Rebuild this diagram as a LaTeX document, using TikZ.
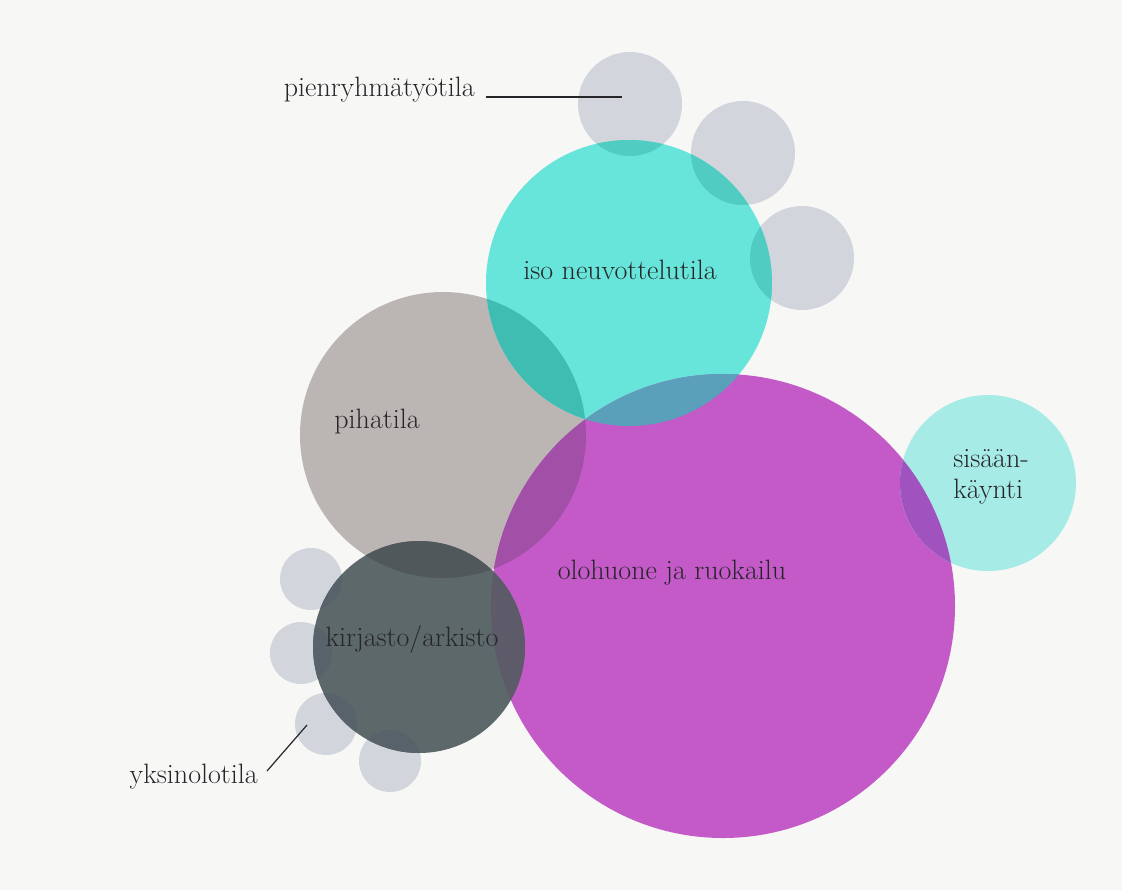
\documentclass[tikz,border=0pt]{standalone}
\usepackage{fontspec}
\definecolor{bgc}{HTML}{F7F7F6}
\definecolor{sgrey}{HTML}{D3D5DC}
\definecolor{cyanA}{HTML}{67E5DA}
\definecolor{cyanL}{HTML}{A6EBE6}
\definecolor{pihc}{HTML}{BBB6B4}
\definecolor{magc}{HTML}{C35AC8}
\definecolor{darkc}{HTML}{5D686B}
\definecolor{txtc}{HTML}{262629}
\definecolor{gxcy}{HTML}{50CCC3}
\definecolor{pxcy}{HTML}{40BDB2}
\definecolor{cyxm}{HTML}{5AA0BA}
\definecolor{pxm}{HTML}{A24FA8}
\definecolor{pxcyxm}{HTML}{4E8C9E}
\definecolor{dxp}{HTML}{50585B}
\definecolor{dxm}{HTML}{5D5A6A}
\definecolor{dxpxm}{HTML}{4E4B5A}
\definecolor{dxl}{HTML}{58626A}
\definecolor{mxs}{HTML}{A052BF}
\newcommand\ovl[3]{\begin{scope}\clip #1;\fill[#3] #2;\end{scope}}
\newcommand\ovlt[4]{\begin{scope}\clip #1;\clip #2;\fill[#4] #3;\end{scope}}
\begin{document}
\begin{tikzpicture}[x=0.75pt,y=-0.75pt,
  lbl/.style={text=txtc,font=\fontsize{21}{25}\selectfont,inner sep=0pt},
  leader/.style={draw=txtc,line width=0.9pt}]
\fill[bgc] (0,0) rectangle (1122,890);
\useasboundingbox (0,0) rectangle (1122,890);
% centres
\coordinate (g1) at (630,104);
\coordinate (g2) at (743,153);
\coordinate (g3) at (802,258);
\coordinate (cy) at (629,283);
\coordinate (ph) at (443,435);
\coordinate (mg) at (723,606);
\coordinate (ss) at (988,483);
\coordinate (dk) at (419,647);
\coordinate (l1) at (311,579);
\coordinate (l2) at (301,653);
\coordinate (l3) at (326,724);
\coordinate (l4) at (390,761);
% base circles
\fill[sgrey] (g1) circle (52);
\fill[sgrey] (g2) circle (52);
\fill[sgrey] (g3) circle (52);
\fill[sgrey] (l1) circle (31);
\fill[sgrey] (l2) circle (31);
\fill[sgrey] (l3) circle (31);
\fill[sgrey] (l4) circle (31);
\fill[pihc] (ph) circle (143);
\fill[cyanA] (cy) circle (143);
\fill[magc] (mg) circle (232);
\fill[cyanL] (ss) circle (88);
\fill[darkc] (dk) circle (106);
% overlaps
\ovl{(cy) circle (143)}{(g1) circle (52)}{gxcy}
\ovl{(cy) circle (143)}{(g2) circle (52)}{gxcy}
\ovl{(cy) circle (143)}{(g3) circle (52)}{gxcy}
\ovl{(cy) circle (143)}{(ph) circle (143)}{pxcy}
\ovl{(cy) circle (143)}{(mg) circle (232)}{cyxm}
\ovl{(ph) circle (143)}{(mg) circle (232)}{pxm}
\ovlt{(cy) circle (143)}{(ph) circle (143)}{(mg) circle (232)}{pxcyxm}
\ovl{(mg) circle (232)}{(ss) circle (88)}{mxs}
\ovl{(dk) circle (106)}{(ph) circle (143)}{dxp}
\ovl{(dk) circle (106)}{(mg) circle (232)}{dxm}
\ovlt{(dk) circle (106)}{(ph) circle (143)}{(mg) circle (232)}{dxpxm}
\ovl{(dk) circle (106)}{(l1) circle (31)}{dxl}
\ovl{(dk) circle (106)}{(l2) circle (31)}{dxl}
\ovl{(dk) circle (106)}{(l3) circle (31)}{dxl}
\ovl{(dk) circle (106)}{(l4) circle (31)}{dxl}
% labels
\node[lbl,anchor=base east] (pien) at (475,96) {pienryhmätyötila};
\node[lbl,anchor=base] (iso) at (620,279) {iso neuvottelutila};
\node[lbl,anchor=base] (piha) at (377,428) {pihatila};
\node[lbl,anchor=base] (olo) at (672,579) {olohuone ja ruokailu};
\node[lbl,anchor=base west] (sis1) at (953,467) {sisään-};
\node[lbl,anchor=base west] (sis2) at (953,498) {käynti};
\node[lbl,anchor=base] (kirj) at (412,646) {kirjasto/arkisto};
\node[lbl,anchor=base east] (yks) at (258,783) {yksinolotila};
% leaders
\coordinate (pienA) at (486,97);
\coordinate (pienB) at (622,97);
\coordinate (yksA) at (267,771);
\coordinate (yksB) at (307,725);
\draw[leader] (pienA) -- (pienB);
\draw[leader] (yksA) -- (yksB);
\end{tikzpicture}
\end{document}
